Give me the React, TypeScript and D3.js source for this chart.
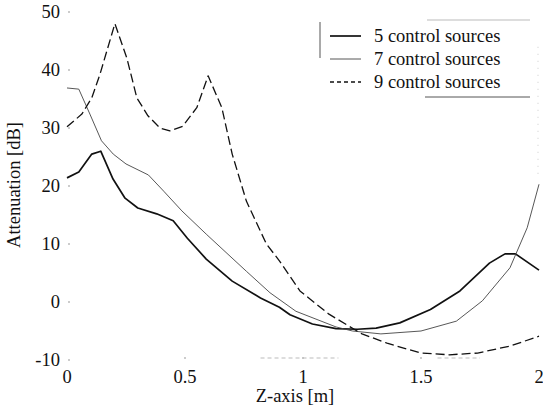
import React from 'react';
import * as d3 from 'd3';

// Z-axis positions [m] and attenuation [dB]
const z5 = [0, 0.05, 0.105, 0.143, 0.195, 0.246, 0.3, 0.38, 0.45, 0.51, 0.59, 0.7, 0.82, 0.9, 0.945, 1.04, 1.14, 1.23, 1.31, 1.41, 1.54, 1.665, 1.79, 1.856, 1.9, 2.0];
const a5 = [21.4, 22.4, 25.5, 26, 21.2, 17.9, 16.2, 15.2, 14, 11, 7.4, 3.6, 0.7, -0.9, -2.2, -3.8, -4.6, -4.7, -4.5, -3.6, -1.3, 1.9, 6.7, 8.3, 8.3, 5.5];

const z7 = [0, 0.05, 0.097, 0.146, 0.196, 0.25, 0.345, 0.41, 0.487, 0.59, 0.76, 0.86, 0.97, 1.14, 1.21, 1.33, 1.5, 1.65, 1.76, 1.877, 1.95, 2.0];
const a7 = [36.9, 36.7, 32.4, 27.8, 25.5, 23.8, 21.9, 19.1, 15.7, 11.7, 5.3, 1.6, -1.6, -4.3, -5.0, -5.5, -5.0, -3.3, 0.2, 5.9, 12.8, 20.3];

const z9 = [0, 0.063, 0.105, 0.14, 0.203, 0.254, 0.296, 0.343, 0.394, 0.436, 0.49, 0.55, 0.598, 0.656, 0.7, 0.76, 0.845, 0.9, 0.987, 1.11, 1.25, 1.356, 1.5, 1.62, 1.74, 1.877, 2.0];
const a9 = [30.2, 32.4, 35.2, 39.3, 48, 42, 35.2, 32.1, 30, 29.5, 30.3, 33.5, 39, 33.5, 25.5, 17.4, 10, 7.1, 1.9, -2.1, -5.5, -7.1, -8.8, -9.1, -8.8, -7.6, -5.9];

const xTicks = [0, 0.5, 1, 1.5, 2];
const yTicks = [-10, 0, 10, 20, 30, 40, 50];
const labels = ['5 control sources', '7 control sources', '9 control sources'];

const W = 543;
const H = 413;
const FONT = 'Liberation Serif';
const FS = 18.5;

const series = [
  { name: labels[0], z: z5, a: a5, width: 1.7, color: '#111', dash: null },
  { name: labels[1], z: z7, a: a7, width: 0.9, color: '#444', dash: null },
  { name: labels[2], z: z9, a: a9, width: 1.3, color: '#111', dash: '9,4' },
];

export default function App() {
  const x = d3.scaleLinear().domain([0, 2]).range([67, 539]);
  const y = d3.scaleLinear().domain([-10, 50]).range([360, 12]);

  const line = d3
    .line<[number, number]>()
    .x((d) => x(d[0]))
    .y((d) => y(d[1]))
    .curve(d3.curveLinear);

  return (
    <svg
      width={W}
      height={H}
      style={{ position: 'absolute', left: 0, top: 0, fontFamily: FONT }}
    >
      <rect width={W} height={H} fill="#fff" />
      {/* faint scan leftovers of the frame */}
      {yTicks.map((t) => (
        <line key={'yt' + t} x1={x(0) + 1} x2={x(0) + 3} y1={y(t)} y2={y(t)} stroke="#999" strokeWidth={1} />
      ))}
      {xTicks.slice(1, 4).map((t) => (
        <line key={'xt' + t} x1={x(t)} x2={x(t)} y1={y(-10) - 3} y2={y(-10) - 1} stroke="#999" strokeWidth={1} />
      ))}
      <line x1={x(0.82)} x2={x(1.15)} y1={y(-10) - 2} y2={y(-10) - 2} stroke="#bbb" strokeDasharray="4,3" />
      <line x1={x(1.57)} x2={x(1.75)} y1={y(-10) - 2} y2={y(-10) - 2} stroke="#bbb" strokeDasharray="4,3" />
      <line x1={x(2) - 1} x2={x(2) - 1} y1={y(44)} y2={y(22)} stroke="#ccc" strokeDasharray="1,6" />

      {series.map((s) => (
        <path
          key={s.name}
          d={line(s.z.map((v, i) => [v, s.a[i]]) as [number, number][]) || ''}
          fill="none"
          stroke={s.color}
          strokeWidth={s.width}
          strokeDasharray={s.dash || undefined}
          strokeLinejoin="round"
        />
      ))}

      {yTicks.map((t) => (
        <text key={'yl' + t} x={60} y={y(t)} dy="0.35em" textAnchor="end" fontFamily={FONT} fontSize={FS} fill="#111">
          {t}
        </text>
      ))}
      {xTicks.map((t) => (
        <text key={'xl' + t} x={x(t)} y={383} textAnchor="middle" fontFamily={FONT} fontSize={FS} fill="#111">
          {t}
        </text>
      ))}
      <text x={295} y={402} textAnchor="middle" fontFamily={FONT} fontSize={FS} fill="#111">
        Z-axis [m]
      </text>
      <text transform="translate(20,185) rotate(-90)" textAnchor="middle" fontFamily={FONT} fontSize={FS} fill="#111">
        Attenuation [dB]
      </text>

      {/* legend */}
      <g>
        <line x1={320} x2={320} y1={22} y2={58} stroke="#555" strokeWidth={1} />
        <line x1={427} x2={530} y1={20} y2={20} stroke="#bbb" strokeWidth={1} />
        <line x1={425} x2={530} y1={97} y2={97} stroke="#555" strokeWidth={1} />
        {series.map((s, i) => (
          <g key={'lg' + i} transform={`translate(0,${36 + i * 23})`}>
            <line x1={330} x2={361} y1={0} y2={0} stroke={s.color} strokeWidth={s.width} strokeDasharray={s.dash ? '4,3' : undefined} />
            <text x={374} y={0} dy="0.35em" fontFamily={FONT} fontSize={FS} fill="#111">
              {s.name}
            </text>
          </g>
        ))}
      </g>
    </svg>
  );
}
